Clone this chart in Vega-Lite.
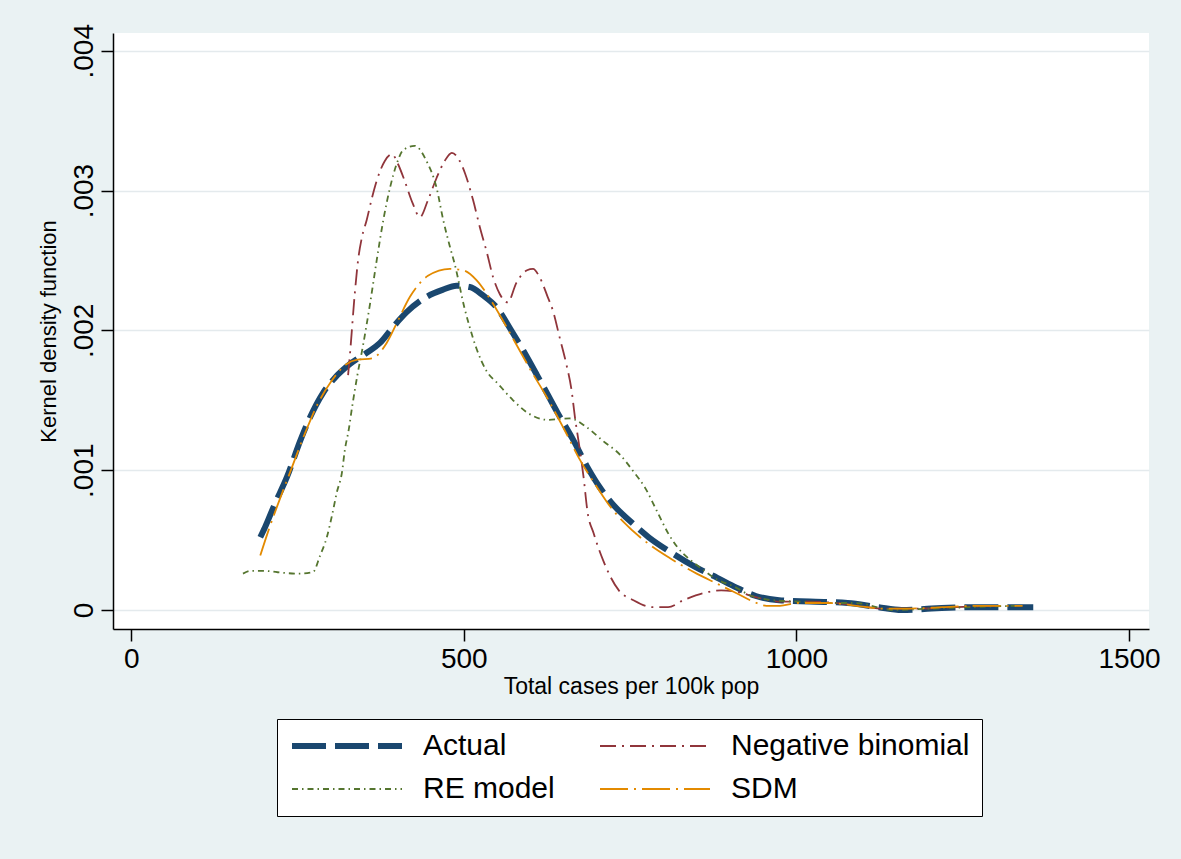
{
  "$schema": "https://vega.github.io/schema/vega-lite/v6.json",
  "autosize": "none",
  "padding": {"left": 113, "top": 33, "right": 32, "bottom": 230},
  "width": 1036,
  "height": 596,
  "background": "#EAF2F3",
  "config": {
    "view": {"fill": "white", "stroke": null},
    "axis": {
      "domainColor": "#000000", "domainWidth": 1.5, "tickColor": "#000000", "tickWidth": 1.5, "tickSize": 12,
      "labelFont": "Liberation Sans", "labelFontSize": 28, "labelColor": "#000000",
      "titleFont": "Liberation Sans", "titleFontWeight": "normal", "titleColor": "#000000"
    },
    "legend": {
      "orient": "none", "legendX": 164, "legendY": 686, "columns": 2, "direction": "horizontal",
      "symbolType": "stroke", "symbolSize": 12100, "clipHeight": 30,
      "labelFont": "Liberation Sans", "labelFontSize": 30, "labelColor": "#000000", "labelOffset": 18,
      "columnPadding": 42, "rowPadding": 13, "padding": 12,
      "fillColor": "#ffffff", "strokeColor": "#000000", "labelLimit": 400
    }
  },
  "data": {"values": [
    {"s":"Actual","x":194,"y":0.00052},{"s":"Actual","x":201,"y":0.00059},{"s":"Actual","x":216,"y":0.00076},{"s":"Actual","x":234,"y":0.00095},{"s":"Actual","x":254,"y":0.00121},{"s":"Actual","x":269,"y":0.00138},{"s":"Actual","x":288,"y":0.00155},{"s":"Actual","x":306,"y":0.00166},{"s":"Actual","x":329,"y":0.00176},{"s":"Actual","x":354,"y":0.00184},{"s":"Actual","x":374,"y":0.00191},{"s":"Actual","x":393,"y":0.00202},{"s":"Actual","x":414,"y":0.00213},{"s":"Actual","x":444,"y":0.00224},{"s":"Actual","x":468,"y":0.00229},{"s":"Actual","x":489,"y":0.00232},{"s":"Actual","x":509,"y":0.00231},{"s":"Actual","x":529,"y":0.00225},{"s":"Actual","x":550,"y":0.00216},{"s":"Actual","x":570,"y":0.00201},{"s":"Actual","x":590,"y":0.00185},{"s":"Actual","x":610,"y":0.00168},{"s":"Actual","x":625,"y":0.00155},{"s":"Actual","x":641,"y":0.00141},{"s":"Actual","x":664,"y":0.00122},{"s":"Actual","x":686,"y":0.00102},{"s":"Actual","x":704,"y":0.00088},{"s":"Actual","x":727,"y":0.00074},{"s":"Actual","x":749,"y":0.00064},{"s":"Actual","x":778,"y":0.00052},{"s":"Actual","x":812,"y":0.00041},{"s":"Actual","x":847,"y":0.00031},{"s":"Actual","x":881,"y":0.00023},{"s":"Actual","x":910,"y":0.00016},{"s":"Actual","x":939,"y":0.0001},{"s":"Actual","x":974,"y":0.00007},{"s":"Actual","x":1020,"y":0.00006},{"s":"Actual","x":1077,"y":0.00005},{"s":"Actual","x":1123,"y":0.00002},{"s":"Actual","x":1158,"y":0.0},{"s":"Actual","x":1203,"y":0.00001},{"s":"Actual","x":1261,"y":0.00002},{"s":"Actual","x":1330,"y":0.00002},{"s":"Actual","x":1356,"y":0.00002},

    {"s":"Negative binomial","x":326,"y":0.00168},{"s":"Negative binomial","x":329,"y":0.00184},{"s":"Negative binomial","x":336,"y":0.00226},{"s":"Negative binomial","x":341,"y":0.0025},{"s":"Negative binomial","x":347,"y":0.00267},{"s":"Negative binomial","x":354,"y":0.00279},{"s":"Negative binomial","x":362,"y":0.00295},{"s":"Negative binomial","x":369,"y":0.00307},{"s":"Negative binomial","x":381,"y":0.00321},{"s":"Negative binomial","x":392,"y":0.00326},{"s":"Negative binomial","x":401,"y":0.00319},{"s":"Negative binomial","x":411,"y":0.00307},{"s":"Negative binomial","x":423,"y":0.00291},{"s":"Negative binomial","x":434,"y":0.00281},{"s":"Negative binomial","x":446,"y":0.00293},{"s":"Negative binomial","x":459,"y":0.00309},{"s":"Negative binomial","x":471,"y":0.00321},{"s":"Negative binomial","x":482,"y":0.00327},{"s":"Negative binomial","x":494,"y":0.00321},{"s":"Negative binomial","x":502,"y":0.00312},{"s":"Negative binomial","x":514,"y":0.00293},{"s":"Negative binomial","x":524,"y":0.00274},{"s":"Negative binomial","x":535,"y":0.00255},{"s":"Negative binomial","x":544,"y":0.00238},{"s":"Negative binomial","x":554,"y":0.00226},{"s":"Negative binomial","x":566,"y":0.0022},{"s":"Negative binomial","x":579,"y":0.00234},{"s":"Negative binomial","x":595,"y":0.00243},{"s":"Negative binomial","x":604,"y":0.00244},{"s":"Negative binomial","x":614,"y":0.00238},{"s":"Negative binomial","x":626,"y":0.00224},{"s":"Negative binomial","x":634,"y":0.00214},{"s":"Negative binomial","x":644,"y":0.00195},{"s":"Negative binomial","x":654,"y":0.00176},{"s":"Negative binomial","x":662,"y":0.00157},{"s":"Negative binomial","x":667,"y":0.00138},{"s":"Negative binomial","x":673,"y":0.00119},{"s":"Negative binomial","x":680,"y":0.00095},{"s":"Negative binomial","x":686,"y":0.0007},{"s":"Negative binomial","x":695,"y":0.00055},{"s":"Negative binomial","x":709,"y":0.00036},{"s":"Negative binomial","x":733,"y":0.00014},{"s":"Negative binomial","x":755,"y":0.00007},{"s":"Negative binomial","x":784,"y":0.00002},{"s":"Negative binomial","x":807,"y":0.00002},{"s":"Negative binomial","x":830,"y":0.00007},{"s":"Negative binomial","x":859,"y":0.00012},{"s":"Negative binomial","x":887,"y":0.00014},{"s":"Negative binomial","x":910,"y":0.00013},{"s":"Negative binomial","x":940,"y":0.00009},{"s":"Negative binomial","x":975,"y":0.00006},{"s":"Negative binomial","x":1020,"y":0.00006},{"s":"Negative binomial","x":1080,"y":0.00004},{"s":"Negative binomial","x":1130,"y":0.00001},{"s":"Negative binomial","x":1180,"y":0.00001},{"s":"Negative binomial","x":1240,"y":0.00002},{"s":"Negative binomial","x":1300,"y":0.00003},

    {"s":"RE model","x":168,"y":0.00026},{"s":"RE model","x":180,"y":0.00028},{"s":"RE model","x":200,"y":0.00028},{"s":"RE model","x":220,"y":0.00027},{"s":"RE model","x":250,"y":0.00026},{"s":"RE model","x":273,"y":0.00027},{"s":"RE model","x":284,"y":0.00039},{"s":"RE model","x":294,"y":0.00052},{"s":"RE model","x":302,"y":0.00068},{"s":"RE model","x":309,"y":0.00084},{"s":"RE model","x":317,"y":0.00099},{"s":"RE model","x":321,"y":0.00114},{"s":"RE model","x":327,"y":0.00129},{"s":"RE model","x":332,"y":0.00145},{"s":"RE model","x":340,"y":0.00168},{"s":"RE model","x":348,"y":0.00188},{"s":"RE model","x":359,"y":0.00219},{"s":"RE model","x":369,"y":0.0025},{"s":"RE model","x":379,"y":0.00279},{"s":"RE model","x":389,"y":0.00302},{"s":"RE model","x":399,"y":0.00319},{"s":"RE model","x":409,"y":0.00329},{"s":"RE model","x":426,"y":0.00332},{"s":"RE model","x":444,"y":0.00321},{"s":"RE model","x":459,"y":0.00302},{"s":"RE model","x":469,"y":0.00279},{"s":"RE model","x":479,"y":0.0026},{"s":"RE model","x":486,"y":0.00248},{"s":"RE model","x":501,"y":0.00216},{"s":"RE model","x":509,"y":0.00202},{"s":"RE model","x":519,"y":0.00187},{"s":"RE model","x":534,"y":0.00171},{"s":"RE model","x":551,"y":0.00162},{"s":"RE model","x":574,"y":0.0015},{"s":"RE model","x":596,"y":0.00141},{"s":"RE model","x":626,"y":0.00136},{"s":"RE model","x":659,"y":0.00137},{"s":"RE model","x":684,"y":0.00131},{"s":"RE model","x":709,"y":0.00121},{"s":"RE model","x":735,"y":0.00111},{"s":"RE model","x":755,"y":0.00099},{"s":"RE model","x":773,"y":0.00087},{"s":"RE model","x":790,"y":0.00071},{"s":"RE model","x":807,"y":0.00055},{"s":"RE model","x":821,"y":0.00045},{"s":"RE model","x":840,"y":0.00036},{"s":"RE model","x":859,"y":0.00029},{"s":"RE model","x":880,"y":0.00022},{"s":"RE model","x":905,"y":0.00017},{"s":"RE model","x":933,"y":0.0001},{"s":"RE model","x":965,"y":0.00007},{"s":"RE model","x":1002,"y":0.00006},{"s":"RE model","x":1050,"y":0.00005},{"s":"RE model","x":1088,"y":0.00005},{"s":"RE model","x":1146,"y":0.0},{"s":"RE model","x":1203,"y":0.00001},{"s":"RE model","x":1260,"y":0.00002},{"s":"RE model","x":1330,"y":0.00003},

    {"s":"SDM","x":194,"y":0.00039},{"s":"SDM","x":205,"y":0.00055},{"s":"SDM","x":220,"y":0.00075},{"s":"SDM","x":240,"y":0.001},{"s":"SDM","x":260,"y":0.00125},{"s":"SDM","x":280,"y":0.00147},{"s":"SDM","x":300,"y":0.00163},{"s":"SDM","x":324,"y":0.00176},{"s":"SDM","x":340,"y":0.00179},{"s":"SDM","x":362,"y":0.0018},{"s":"SDM","x":384,"y":0.00191},{"s":"SDM","x":399,"y":0.00205},{"s":"SDM","x":419,"y":0.00224},{"s":"SDM","x":446,"y":0.00239},{"s":"SDM","x":479,"y":0.00244},{"s":"SDM","x":499,"y":0.00243},{"s":"SDM","x":519,"y":0.00236},{"s":"SDM","x":540,"y":0.00222},{"s":"SDM","x":560,"y":0.00206},{"s":"SDM","x":580,"y":0.00189},{"s":"SDM","x":600,"y":0.00172},{"s":"SDM","x":625,"y":0.00152},{"s":"SDM","x":650,"y":0.0013},{"s":"SDM","x":675,"y":0.00107},{"s":"SDM","x":700,"y":0.00088},{"s":"SDM","x":720,"y":0.00074},{"s":"SDM","x":740,"y":0.00063},{"s":"SDM","x":773,"y":0.00049},{"s":"SDM","x":810,"y":0.00037},{"s":"SDM","x":850,"y":0.00026},{"s":"SDM","x":880,"y":0.00019},{"s":"SDM","x":910,"y":0.00012},{"s":"SDM","x":935,"y":0.00006},{"s":"SDM","x":955,"y":0.00003},{"s":"SDM","x":975,"y":0.00003},{"s":"SDM","x":1002,"y":0.00005},{"s":"SDM","x":1050,"y":0.00005},{"s":"SDM","x":1090,"y":0.00003},{"s":"SDM","x":1130,"y":0.00001},{"s":"SDM","x":1170,"y":0.00001},{"s":"SDM","x":1220,"y":0.00002},{"s":"SDM","x":1270,"y":0.00003},{"s":"SDM","x":1340,"y":0.00003}
  ]},
  "mark": {"type": "line", "interpolate": "monotone", "strokeCap": "butt"},
  "encoding": {
    "x": {
      "field": "x", "type": "quantitative",
      "scale": {"domain": [-27.4, 1530], "nice": false, "zero": false},
      "axis": {"values": [0, 500, 1000, 1500], "format": "d", "grid": false, "labelPadding": 4, "title": "Total cases per 100k pop", "titleFontSize": 23, "titlePadding": 2}
    },
    "y": {
      "field": "y", "type": "quantitative",
      "scale": {"domain": [-0.000136, 0.004127], "nice": false, "zero": false},
      "axis": {
        "values": [0, 0.001, 0.002, 0.003, 0.004], "grid": true, "gridColor": "#E4EAED", "gridWidth": 1.5,
        "labelAngle": -90, "labelPadding": 3,
        "labelExpr": "datum.value == 0 ? '0' : substring(format(datum.value, '.3f'), 1)",
        "title": "Kernel density function", "titleFontSize": 22, "titlePadding": 10
      }
    },
    "color": {
      "field": "s", "type": "nominal", "title": null,
      "scale": {"domain": ["Actual", "Negative binomial", "RE model", "SDM"], "range": ["#1a476f", "#90353b", "#55752f", "#e38a00"]}
    },
    "strokeDash": {
      "field": "s", "type": "nominal", "title": null,
      "scale": {"domain": ["Actual", "Negative binomial", "RE model", "SDM"], "range": [[34, 9], [16, 6, 2, 6], [6, 4, 1.5, 4], [28, 6, 2, 6]]}
    },
    "strokeWidth": {
      "field": "s", "type": "nominal", "title": null,
      "scale": {"type": "ordinal", "domain": ["Actual", "Negative binomial", "RE model", "SDM"], "range": [6, 1.8, 1.8, 1.8]}
    }
  }
}
